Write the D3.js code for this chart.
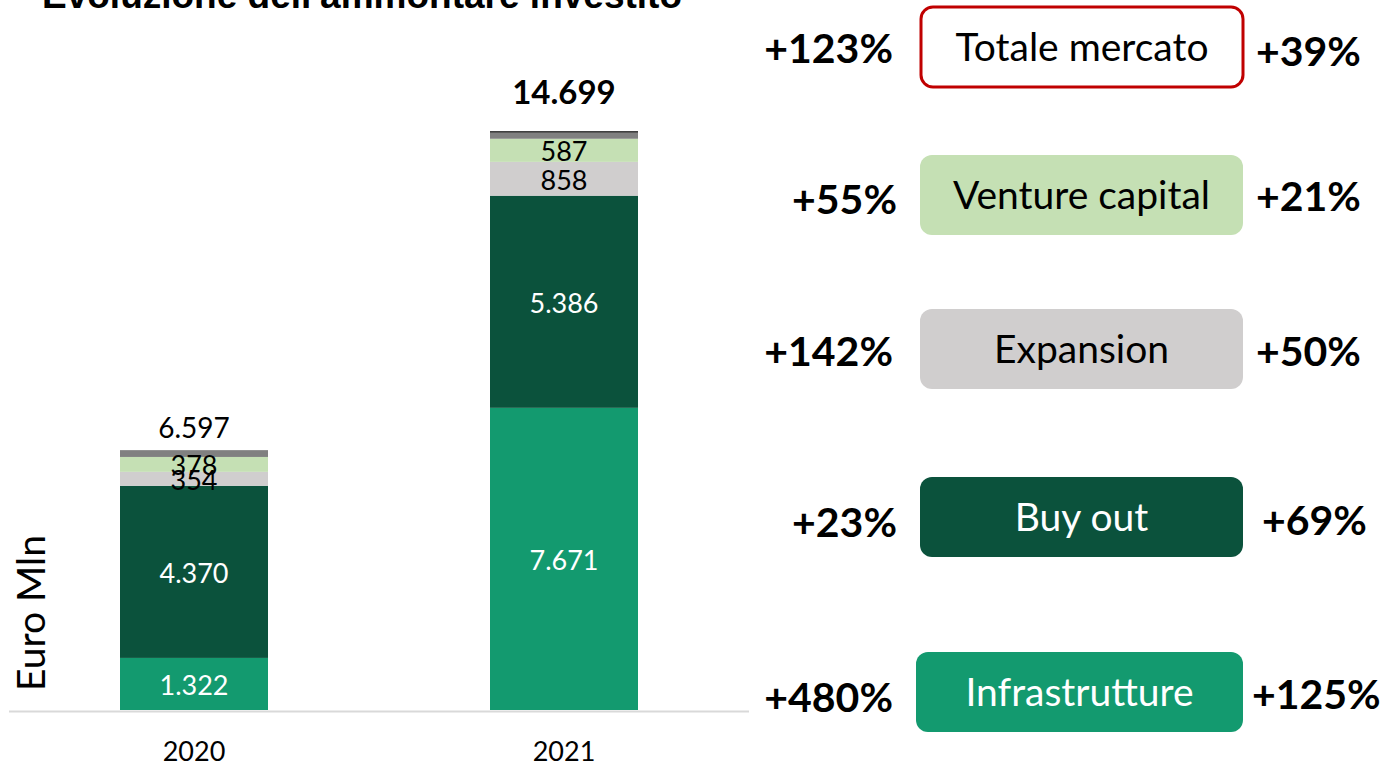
<!DOCTYPE html>
<html>
<head>
<meta charset="utf-8">
<script src="https://cdn.jsdelivr.net/npm/d3@7"></script>
<style>
  body { margin: 0; background: #fff; }
  svg { display: block; font-family: Lato, "Open Sans", sans-serif; }
</style>
</head>
<body>
<svg id="chart"></svg>
<script>
const width = 1389;
const height = 766;

// data
const years = ['2020', '2021'];
const keys = ['infrastrutture', 'buyout', 'expansion', 'venture', 'altro', 'turnaround'];
const infrastrutture = [1322, 7671];
const buyout = [4370, 5386];
const expansion = [354, 858];
const venture = [378, 587];
const altro = [173, 150];
const turnaround = [0, 47];
const totals = [6597, 14699];

const boxLabels = ['Totale mercato', 'Venture capital', 'Expansion', 'Buy out', 'Infrastrutture'];
const pctLeft = ['+123%', '+55%', '+142%', '+23%', '+480%'];
const pctRight = ['+39%', '+21%', '+50%', '+69%', '+125%'];

const series = {infrastrutture, buyout, expansion, venture, altro, turnaround};
const rows = years.map((y, i) => {
  const r = {year: y};
  keys.forEach(k => r[k] = series[k][i]);
  return r;
});

const colors = {
  infrastrutture: '#139a6f',
  buyout: '#0b523c',
  expansion: '#d0cece',
  venture: '#c5e0b4',
  altro: '#808080',
  turnaround: '#404040'
};
const labelColor = {infrastrutture: '#fff', buyout: '#fff', expansion: '#000', venture: '#000'};

const fmt = d3.formatLocale({decimal: ',', thousands: '.', grouping: [3], currency: ['', '€']}).format(',');

const svg = d3.select('#chart')
    .attr('width', width)
    .attr('height', height);

// title (cut at top in original)
svg.append('text')
    .attr('x', 42)
    .attr('y', 8)
    .attr('font-family', '"Liberation Sans", Arial, sans-serif')
    .attr('font-weight', 'bold')
    .attr('font-size', 37)
    .text("Evoluzione dell'ammontare investito");

const x = d3.scaleBand()
    .domain(years)
    .range([9, 749])
    .paddingInner(0.6)
    .paddingOuter(0.3);

const y = d3.scaleLinear()
    .domain([0, 14699])
    .range([710, 131]);

const stacked = d3.stack().keys(keys)(rows);

const layer = svg.append('g')
  .selectAll('g')
  .data(stacked)
  .join('g')
    .attr('fill', d => colors[d.key]);

layer.selectAll('rect')
  .data(d => d)
  .join('rect')
    .attr('x', d => x(d.data.year))
    .attr('width', x.bandwidth())
    .attr('y', d => y(d[1]))
    .attr('height', d => y(d[0]) - y(d[1]));

// segment labels
stacked.filter(s => labelColor[s.key]).forEach(s => {
  svg.append('g')
    .selectAll('text')
    .data(s)
    .join('text')
      .attr('x', d => x(d.data.year) + x.bandwidth() / 2)
      .attr('y', d => (y(d[0]) + y(d[1])) / 2)
      .attr('dy', '0.4em')
      .attr('text-anchor', 'middle')
      .attr('font-size', 27)
      .attr('fill', labelColor[s.key])
      .text(d => fmt(d.data[s.key]));
});

// totals
const totalOffset = [22, 39];
svg.append('g')
  .selectAll('text')
  .data(totals)
  .join('text')
    .attr('x', (d, i) => x(years[i]) + x.bandwidth() / 2)
    .attr('y', (d, i) => y(d) - totalOffset[i])
    .attr('dy', '0.36em')
    .attr('text-anchor', 'middle')
    .attr('font-size', (d, i) => i === 1 ? 33 : 28)
    .attr('font-weight', (d, i) => i === 1 ? 'bold' : 'normal')
    .text(d => fmt(d));

// baseline + axis labels
svg.append('line')
    .attr('x1', 9).attr('x2', 749)
    .attr('y1', 711.5).attr('y2', 711.5)
    .attr('stroke', '#d9d9d9')
    .attr('stroke-width', 2);

svg.append('g')
    .attr('transform', 'translate(0,711)')
    .call(d3.axisBottom(x).tickSize(0).tickPadding(31))
    .call(g => g.select('.domain').remove())
    .selectAll('text')
      .attr('font-family', 'Lato, sans-serif')
      .attr('font-size', 27)
      .attr('fill', '#000');

svg.append('text')
    .attr('transform', 'translate(45,613) rotate(-90)')
    .attr('text-anchor', 'middle')
    .attr('font-size', 39)
    .text('Euro Mln');

// right panel
const boxFill = ['#fff', '#c5e0b4', '#d0cece', '#0b523c', '#139a6f'];
const boxText = ['#000', '#000', '#000', '#fff', '#fff'];
const boxMid = [47, 195, 349, 517, 692];
const boxLeft = [921, 920, 920, 920, 916];

const boxes = svg.append('g')
  .selectAll('g')
  .data(boxLabels)
  .join('g')
    .attr('transform', (d, i) => `translate(0,${boxMid[i]})`);

boxes.append('rect')
    .attr('x', (d, i) => boxLeft[i])
    .attr('y', -40)
    .attr('width', (d, i) => 1243 - boxLeft[i])
    .attr('height', 80)
    .attr('rx', 12)
    .attr('fill', (d, i) => boxFill[i])
    .attr('stroke', (d, i) => i === 0 ? '#c00000' : 'none')
    .attr('stroke-width', 3);

boxes.append('text')
    .attr('x', (d, i) => (boxLeft[i] + 1243) / 2)
    .attr('dy', '0.36em')
    .attr('text-anchor', 'middle')
    .attr('font-size', 39)
    .attr('fill', (d, i) => boxText[i])
    .text(d => d);

boxes.append('text')
    .attr('x', (d, i) => [893, 897, 893, 897, 893][i])
    .attr('y', (d, i) => [1, 4, 2, 5, 5][i])
    .attr('dy', '0.36em')
    .attr('text-anchor', 'end')
    .attr('font-size', 41)
    .attr('font-weight', 'bold')
    .text((d, i) => pctLeft[i]);

boxes.append('text')
    .attr('x', (d, i) => [1256, 1256, 1256, 1262, 1252][i])
    .attr('y', (d, i) => [4, 1, 2, 3, 2][i])
    .attr('dy', '0.36em')
    .attr('text-anchor', 'start')
    .attr('font-size', 41)
    .attr('font-weight', 'bold')
    .text((d, i) => pctRight[i]);
</script>
</body>
</html>
